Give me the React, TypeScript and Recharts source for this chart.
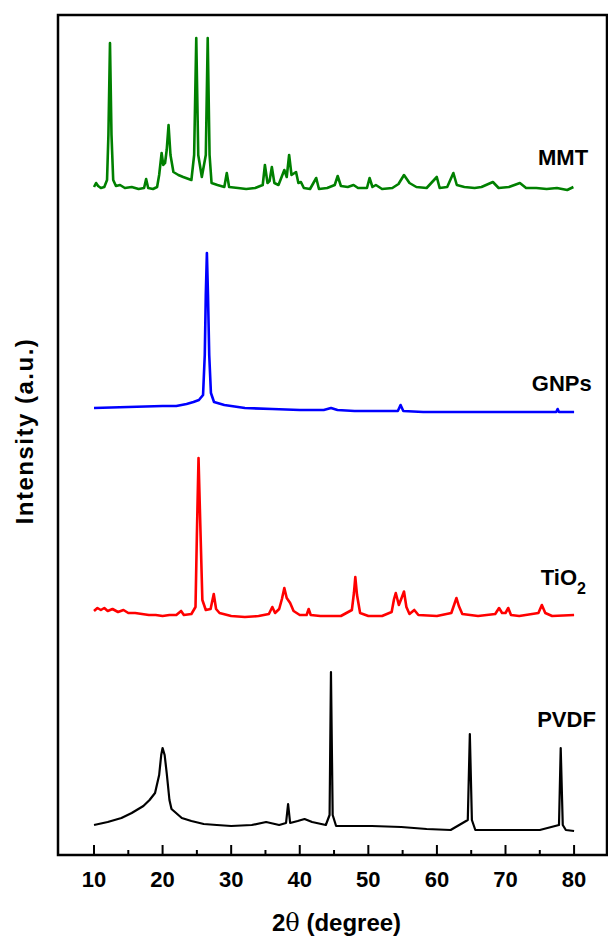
import React from 'react';
import { LineChart, Line, XAxis, YAxis, ReferenceArea, ReferenceDot, Label } from 'recharts';

// 2θ (degree), intensity (a.u., already stacked with vertical offsets)
const pvdf: [number, number][] = [
  [10, 30], [12, 33], [14, 37], [15.5, 42], [17.2, 49], [18.1, 55], [18.9, 62], [19.5, 80], [19.8, 100],
  [20.0, 107], [20.3, 100], [20.6, 82], [21.0, 55], [21.3, 46], [21.8, 43], [22.8, 37], [24.2, 34],
  [26, 31], [27.9, 30], [30, 29], [33, 30], [35.1, 33], [37, 30], [38.0, 32], [38.3, 51], [38.6, 32],
  [39.7, 34], [40.7, 36], [41.8, 33], [43.8, 30], [44.35, 40], [44.55, 183], [44.8, 40], [45.3, 29],
  [47.3, 29], [50.5, 29], [54.8, 28], [58.5, 26], [62, 25], [64.5, 35], [64.8, 121], [65.1, 35],
  [65.6, 25], [70, 25], [75, 25], [77.8, 30], [78.05, 107], [78.35, 30], [78.8, 25], [80, 24],
];

const tio2: [number, number][] = [
  [10, 244], [10.5, 247], [11, 245], [11.5, 247], [12, 244], [12.7, 246], [13.5, 243], [14.3, 245],
  [15, 242], [16, 242], [17, 241], [18, 240], [19, 240], [20, 239], [21, 240], [22, 240], [22.7, 244],
  [23.1, 240], [24.2, 241], [24.8, 248], [25.0, 320], [25.24, 397], [25.5, 330], [25.8, 255],
  [26.3, 245], [27.0, 246], [27.46, 261], [27.8, 246], [28.3, 242], [30, 239], [32, 238], [34, 239],
  [35.5, 241], [36.0, 248], [36.4, 242], [37.0, 246], [37.4, 256], [37.75, 267], [38.1, 257],
  [38.6, 252], [39.1, 244], [40, 240], [41.0, 240], [41.3, 246], [41.6, 240], [43, 239], [46, 239],
  [47.6, 245], [47.9, 262], [48.1, 278], [48.35, 260], [48.8, 242], [50, 239], [52, 239], [53.4, 243],
  [53.75, 256], [54.0, 262], [54.45, 250], [54.85, 257], [55.2, 263.5], [55.55, 248], [56.0, 241],
  [56.7, 245], [57.3, 240], [60, 239], [62.1, 242], [62.6, 252], [62.85, 257], [63.2, 249],
  [63.7, 241], [66, 239], [68.5, 241], [69.06, 247], [69.5, 242], [70.0, 242], [70.4, 247], [70.8, 240],
  [72, 239], [74.8, 242], [75.3, 250], [75.8, 242], [76.8, 239], [80, 240],
];

const gnps: [number, number][] = [
  [10, 447], [15, 448], [20, 449], [22, 449], [23.5, 451], [24.5, 453], [25.3, 455], [25.9, 460],
  [26.15, 500], [26.3, 560], [26.46, 602], [26.62, 560], [26.8, 500], [27.05, 462], [27.5, 453],
  [29, 450], [32, 447], [36, 446], [40, 445], [43.5, 445], [44.56, 447], [45.5, 445], [48, 444],
  [52, 444], [54.3, 444], [54.7, 450], [55.1, 444], [58, 443], [63, 443], [68, 443], [73, 443],
  [77.4, 443], [77.6, 446], [77.8, 443], [80, 443],
];

const mmt: [number, number][] = [
  [10, 668], [10.3, 672], [10.6, 669], [11, 667], [11.5, 668], [11.9, 675], [12.1, 720], [12.33, 812],
  [12.55, 720], [12.8, 675], [13.2, 669], [13.8, 670], [14.5, 667], [15.5, 668], [16.5, 666],
  [17.3, 667], [17.6, 676], [17.9, 667], [18.6, 666], [19.2, 668], [19.5, 680], [19.86, 702],
  [20.1, 690], [20.36, 692], [20.6, 705], [20.87, 730], [21.15, 700], [21.58, 683], [22.3, 680],
  [23, 678], [24.2, 675], [24.6, 700], [24.91, 817], [25.2, 700], [25.72, 678], [26.3, 700],
  [26.58, 817], [26.85, 700], [27.14, 672], [28, 670], [29.0, 668], [29.36, 682], [29.7, 668],
  [31, 667], [32.19, 666], [33.5, 667], [34.6, 670], [34.92, 690], [35.3, 672], [35.6, 674],
  [35.93, 688], [36.3, 672], [36.9, 670], [37.75, 685], [38.1, 678], [38.45, 700], [38.8, 680],
  [39.46, 683], [39.8, 672], [40.17, 673], [40.6, 667], [41.5, 666], [42.4, 677], [42.8, 666],
  [44, 667], [45.1, 670], [45.53, 679], [46, 669], [47.0, 668], [47.85, 670], [48.5, 667], [49.8, 667],
  [50.18, 677], [50.6, 668], [51.1, 670], [52, 666], [53.5, 667], [54.4, 671], [55.2, 680], [56, 672],
  [57, 668], [58.5, 667], [59.98, 678], [60.4, 667], [61.5, 668], [62.4, 682], [62.9, 670], [64, 668],
  [65.5, 667], [66.5, 668], [68.16, 673], [69, 667], [70.5, 668], [72.1, 672], [73, 667], [74.5, 667],
  [76, 666], [77.5, 667], [79, 665], [79.9, 668],
];

const xTicks = [10, 15, 20, 25, 30, 35, 40, 45, 50, 55, 60, 65, 70, 75, 80];
const seriesNames = ['MMT', 'GNPs', 'TiO2', 'PVDF'];
const seriesColors = ['#008000', '#0000ff', '#ff0000', '#000000'];
const labelPos: [number, number][] = [[78.4, 690], [78.2, 464], [75.14, 270], [78.9, 128]];

const X_DOMAIN: [number, number] = [4.75, 84.8];
const Y_DOMAIN: [number, number] = [0, 840];
const FONT = '"Liberation Sans", Arial, Helvetica, sans-serif';

const toRows = (arr: [number, number][]) => arr.map(([x, y]) => ({ x, y }));
const allSeries = [mmt, gnps, tio2, pvdf].map(toRows);

const XTick = (props: any) => {
  const { x, y, payload } = props;
  const v = payload.value as number;
  const major = v % 10 === 0;
  return (
    <g>
      <line x1={x} y1={y} x2={x} y2={y - (major ? 10 : 5)} stroke="#000" strokeWidth={2} />
      {major && (
        <text x={x} y={y + 32} textAnchor="middle" fontFamily={FONT} fontWeight="bold" fontSize={22} fill="#000">
          {v}
        </text>
      )}
    </g>
  );
};

const seriesLabel = (name: string) => (props: any) => {
  const { cx, cy } = props;
  if (name === 'TiO2') {
    return (
      <text x={cx} y={cy} textAnchor="start" fontFamily={FONT} fontWeight="bold" fontSize={22} fill="#000">
        TiO<tspan fontSize={16} dy={9}>2</tspan>
      </text>
    );
  }
  return (
    <text x={cx} y={cy} textAnchor="middle" fontFamily={FONT} fontWeight="bold" fontSize={22} fill="#000">
      {name}
    </text>
  );
};

export default function App() {
  return (
    <div style={{ position: 'absolute', left: 0, top: 0, width: 608, height: 939, background: '#fff' }}>
      <LineChart width={608} height={939} margin={{ top: 15, right: 1, bottom: 0, left: 0 }}>
        <XAxis
          dataKey="x"
          type="number"
          domain={X_DOMAIN}
          ticks={xTicks}
          interval={0}
          allowDataOverflow
          height={84}
          tickSize={0}
          tickMargin={0}
          tickLine={false}
          axisLine={false}
          tick={<XTick />}
        >
          <Label
            content={(p: any) => {
              const vb = p.viewBox;
              return (
                <text x={vb.x + vb.width / 2 + 4} y={931} textAnchor="middle" fontFamily={FONT} fontWeight="bold" fontSize={24} fill="#000">
                  2<tspan fontFamily='"DejaVu Serif", serif' fontWeight="normal">θ</tspan> (degree)
                </text>
              );
            }}
          />
        </XAxis>
        <YAxis
          type="number"
          domain={Y_DOMAIN}
          allowDataOverflow
          width={58}
          tick={false}
          tickLine={false}
          axisLine={false}
        >
          <Label
            content={() => (
              <text
                x={33}
                y={431}
                transform="rotate(-90, 33, 431)"
                textAnchor="middle"
                fontFamily={FONT}
                fontWeight="bold"
                fontSize={24}
                letterSpacing={1.5}
                fill="#000"
              >
                Intensity (a.u.)
              </text>
            )}
          />
        </YAxis>
        {allSeries.map((rows, i) => (
          <Line
            key={seriesNames[i]}
            data={rows}
            dataKey="y"
            type="linear"
            stroke={seriesColors[i]}
            strokeWidth={i === 3 ? 2.2 : 2.6}
            strokeLinejoin="round"
            dot={false}
            activeDot={false}
            isAnimationActive={false}
          />
        ))}
        <ReferenceArea
          x1={X_DOMAIN[0]}
          x2={X_DOMAIN[1]}
          y1={Y_DOMAIN[0]}
          y2={Y_DOMAIN[1]}
          fill="none"
          stroke="#000"
          strokeWidth={2.5}
          ifOverflow="visible"
        />
        {seriesNames.map((name, i) => (
          <ReferenceDot
            key={'lbl-' + name}
            x={labelPos[i][0]}
            y={labelPos[i][1]}
            r={0}
            ifOverflow="visible"
            shape={seriesLabel(name)}
          />
        ))}
      </LineChart>
    </div>
  );
}
